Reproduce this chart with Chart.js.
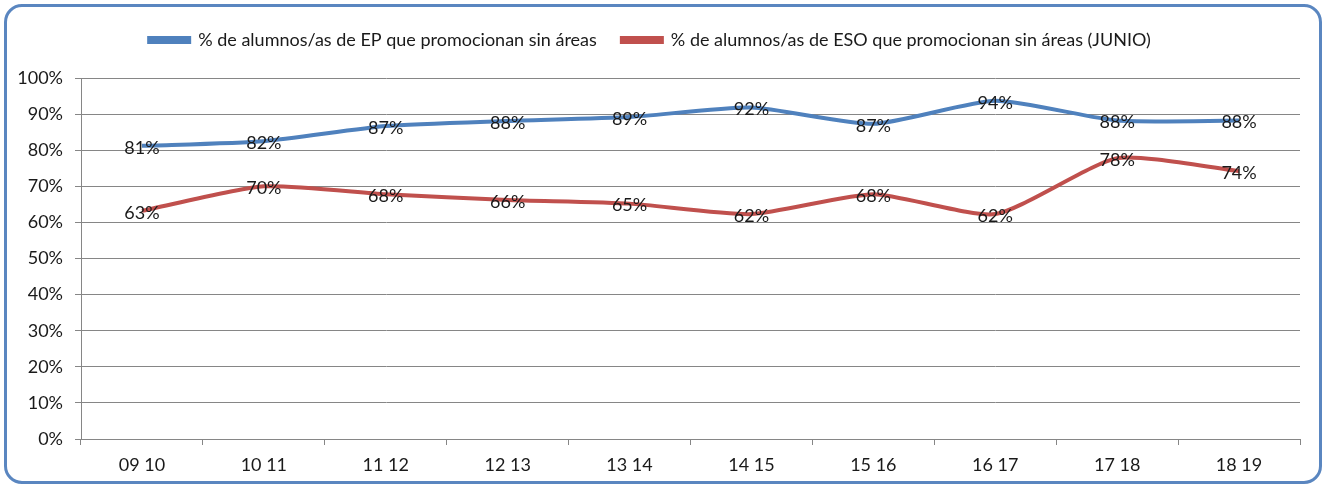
<!DOCTYPE html>
<html>
<head>
<meta charset="utf-8">
<script src="https://cdn.jsdelivr.net/npm/chart.js@4/dist/chart.umd.min.js"></script>
<style>
  html, body { margin: 0; padding: 0; background: #fff; }
  #wrap { position: relative; width: 1327px; height: 488px; }
  #frame {
    position: absolute; left: 4px; top: 4px; width: 1312px; height: 474px;
    border: 3px solid #5a86c0; border-radius: 18px; pointer-events: none;
  }
  canvas { position: absolute; left: 0; top: 0; }
</style>
</head>
<body>
<div id="wrap">
  <canvas id="chart" width="1327" height="488"></canvas>
  <div id="frame"></div>
</div>
<script>
const cursos = ['09 10', '10 11', '11 12', '12 13', '13 14', '14 15', '15 16', '16 17', '17 18', '18 19'];
const epValues = [81.2, 82.5, 86.7, 88.1, 89.2, 91.8, 87.3, 93.7, 88.2, 88.2];
const esoValues = [63.2, 70.0, 67.8, 66.2, 65.2, 62.3, 67.8, 62.3, 77.8, 74.2];
const epLabels = ['81%', '82%', '87%', '88%', '89%', '92%', '87%', '94%', '88%', '88%'];
const esoLabels = ['63%', '70%', '68%', '66%', '65%', '62%', '68%', '62%', '78%', '74%'];

const FONT = 'Lato, "Open Sans", sans-serif';

// draws the value labels on top of each point
const pointLabels = {
  id: 'pointLabels',
  afterDatasetsDraw(chart) {
    const ctx = chart.ctx;
    const x = chart.scales.x;
    const y = chart.scales.y;
    const sets = [[epValues, epLabels], [esoValues, esoLabels]];
    ctx.save();
    ctx.font = '18px ' + FONT;
    ctx.fillStyle = '#1a1a1a';
    ctx.textAlign = 'center';
    ctx.textBaseline = 'middle';
    sets.forEach(([vals, txt]) => {
      vals.forEach((v, i) => {
        ctx.fillText(txt[i], x.getPixelForValue(i), y.getPixelForValue(v) + 2);
      });
    });
    ctx.restore();
  }
};

new Chart(document.getElementById('chart'), {
  type: 'line',
  data: {
    labels: cursos,
    datasets: [
      {
        label: '% de alumnos/as de EP que promocionan sin áreas',
        data: epValues,
        xAxisID: 'x',
        borderColor: '#4f81bd',
        backgroundColor: '#4f81bd',
        borderWidth: 4,
        pointRadius: 0,
        tension: 0.2
      },
      {
        label: '% de alumnos/as de ESO que promocionan sin áreas (JUNIO)',
        data: esoValues,
        xAxisID: 'x',
        borderColor: '#c0504d',
        backgroundColor: '#c0504d',
        borderWidth: 4,
        pointRadius: 0,
        tension: 0.2
      }
    ]
  },
  options: {
    responsive: false,
    animation: false,
    layout: { padding: { top: 6, right: 27, left: 0, bottom: 0 } },
    plugins: {
      legend: {
        position: 'top',
        labels: {
          boxWidth: 40,
          boxHeight: 4,
          padding: 25,
          color: '#1a1a1a',
          font: { family: FONT, size: 18 }
        }
      },
      tooltip: { enabled: false }
    },
    scales: {
      x: {
        offset: true,
        grid: { offset: true, drawOnChartArea: false, tickLength: 6, color: '#868686' },
        border: { color: '#868686' },
        ticks: { color: '#1a1a1a', padding: 9, font: { family: FONT, size: 18 } },
        afterFit: s => { s.height = 49; }
      },
      spacer: {
        type: 'category',
        position: 'top',
        grid: { display: false },
        border: { display: false },
        ticks: { display: false },
        afterFit: s => { s.height = 19; }
      },
      y: {
        min: 0,
        max: 100,
        grid: { color: '#868686', tickLength: 6 },
        border: { color: '#868686' },
        ticks: {
          stepSize: 10,
          color: '#1a1a1a',
          padding: 12,
          font: { family: FONT, size: 18 },
          callback: v => v + '%'
        },
        afterFit: s => { s.width = 81; }
      }
    }
  },
  plugins: [pointLabels]
});
</script>
</body>
</html>
